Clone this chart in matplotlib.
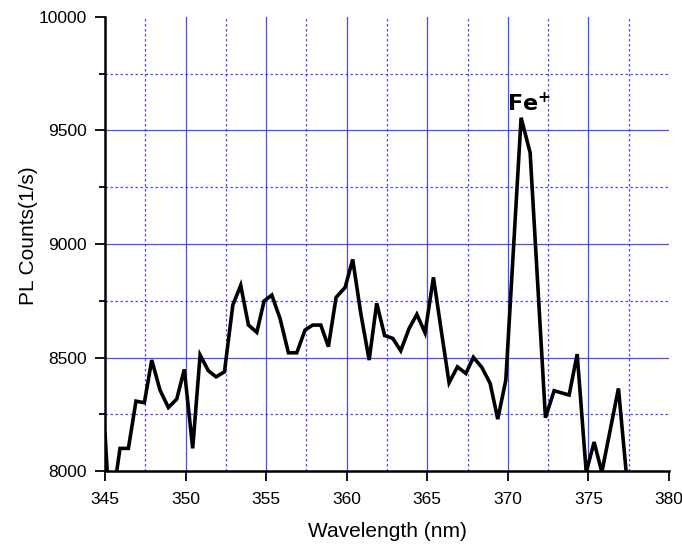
import matplotlib
matplotlib.use("Agg")
import matplotlib.pyplot as plt
from matplotlib.ticker import MultipleLocator

# Photoluminescence spectrum
wavelength = [345.0, 345.3, 345.93, 346.45, 346.92, 347.44, 347.9, 348.41, 348.93,
              349.45, 349.92, 350.44, 350.9, 351.41, 351.89, 352.41, 352.93, 353.42,
              353.9, 354.42, 354.87, 355.35, 355.86, 356.38, 356.9, 357.41, 357.89,
              358.39, 358.86, 359.34, 359.9, 360.37, 360.87, 361.39, 361.86, 362.35,
              362.86, 363.35, 363.87, 364.35, 364.86, 365.38, 365.86, 366.35, 366.87,
              367.39, 367.86, 368.38, 368.9, 369.37, 369.87, 370.82, 371.38, 372.33,
              372.87, 373.3, 373.8, 374.3, 374.86, 375.35, 375.83, 376.86, 377.4]
counts = [8167, 7790, 8100, 8100, 8308, 8301, 8489, 8357, 8280,
          8317, 8448, 8100, 8511, 8442, 8415, 8437, 8731, 8818,
          8643, 8611, 8749, 8775, 8672, 8521, 8521, 8621, 8643,
          8643, 8548, 8765, 8809, 8932, 8695, 8489, 8739, 8597,
          8584, 8530, 8628, 8690, 8609, 8853, 8621, 8389, 8459,
          8430, 8501, 8457, 8386, 8229, 8400, 9556, 9402, 8235,
          8354, 8345, 8335, 8515, 7995, 8128, 7995, 8364, 7950]

peak_label = r"$\mathbf{Fe^{+}}$"
peak_pos = (369.95, 9585)

x_ticks = [345, 350, 355, 360, 365, 370, 375, 380]
y_ticks = [8000, 8500, 9000, 9500, 10000]

plt.rcParams["font.family"] = ["Liberation Sans", "DejaVu Sans"]

fig = plt.figure(figsize=(6.82, 5.44), dpi=100)
ax = fig.add_axes([0.154, 0.134, 0.827, 0.835])

ax.plot(wavelength, counts, color="black", lw=2.6, solid_joinstyle="miter", zorder=3)

ax.set_xlim(345, 380)
ax.set_ylim(8000, 10000)
ax.set_xticks(x_ticks)
ax.set_yticks(y_ticks)
ax.xaxis.set_minor_locator(MultipleLocator(2.5))
ax.yaxis.set_minor_locator(MultipleLocator(250))

grid_blue = "#2a2aff"
ax.grid(which="major", color=grid_blue, lw=0.9, ls="-", alpha=0.85)
ax.grid(which="minor", color=grid_blue, lw=0.9, ls=(0, (2, 2)), alpha=0.85)
ax.set_axisbelow(True)

# no grid lines along the open top and right edges
fig.canvas.draw()
for tick in ax.xaxis.get_major_ticks():
    if tick.get_loc() in (345, 380):
        tick.gridline.set_visible(False)
for tick in ax.yaxis.get_major_ticks():
    if tick.get_loc() in (8000, 10000):
        tick.gridline.set_visible(False)

for s in ("top", "right"):
    ax.spines[s].set_visible(False)
for s in ("left", "bottom"):
    ax.spines[s].set_linewidth(1.8)

ax.tick_params(which="major", direction="out", length=7, width=1.3, labelsize=12.5,
               colors="black")
ax.tick_params(axis="x", which="major", pad=8)
ax.tick_params(axis="y", which="major", pad=6)
ax.tick_params(axis="y", which="minor", direction="out", length=4, width=1.3)
ax.tick_params(axis="x", which="minor", length=0)

ax.set_xlabel("Wavelength (nm)", fontsize=15, labelpad=11)
ax.set_ylabel("PL Counts(1/s)", fontsize=15, labelpad=6)
ax.yaxis.set_label_coords(-0.118, 0.518)

ax.text(peak_pos[0], peak_pos[1], peak_label, fontsize=16, ha="left", va="baseline",
        color="black", zorder=4)

fig.savefig("out.png", dpi=100)
